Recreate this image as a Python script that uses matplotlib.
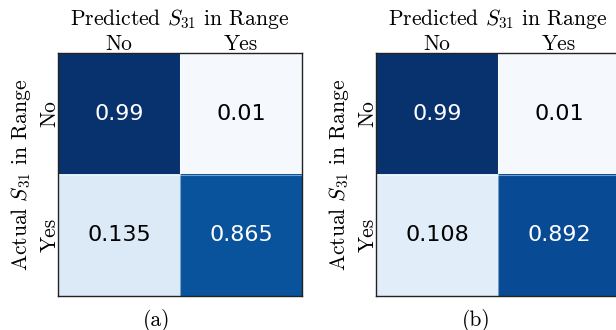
import numpy as np
import matplotlib.pyplot as plt

plt.rcParams["font.family"] = "cmr10"
plt.rcParams["mathtext.fontset"] = "cm"
plt.rcParams["axes.unicode_minus"] = False

classes = ["No", "Yes"]
cm_a = np.array([[0.99, 0.01],
                 [0.135, 0.865]])
cm_b = np.array([[0.99, 0.01],
                 [0.108, 0.892]])
captions = ["(a)", "(b)"]


def draw_matrix(ax, mat):
    ax.imshow(mat, cmap="Blues", vmin=0, vmax=1, aspect="auto")
    # faint seams between the cells
    for k in np.arange(0.5, mat.shape[0] - 0.5):
        ax.axhline(k, color="white", lw=0.8, alpha=0.45)
        ax.axvline(k, color="white", lw=0.8, alpha=0.45)
    for i in range(mat.shape[0]):
        for j in range(mat.shape[1]):
            val = mat[i, j]
            color = "white" if val > 0.5 else "black"
            ax.text(j, i, f"{val:g}", ha="center", va="center",
                    color=color, fontsize=16, family="DejaVu Sans")
    ax.set_xticks(range(len(classes)))
    ax.set_yticks(range(len(classes)))
    ax.set_xticklabels(classes, fontsize=15.5)
    ax.set_yticklabels(classes, fontsize=15.5, rotation=90, va="center")
    ax.xaxis.tick_top()
    ax.xaxis.set_label_position("top")
    ax.tick_params(length=0, pad=-1)
    ax.set_xlabel(r"Predicted $S_{31}$ in Range", fontsize=15.5, labelpad=7)
    ax.set_ylabel(r"Actual $S_{31}$ in Range", fontsize=15.5, labelpad=5)
    for s in ax.spines.values():
        s.set_color("#222222")
        s.set_linewidth(1.0)


W, H = 616, 330
fig = plt.figure(figsize=(W / 100, H / 100), dpi=100)
ax_a = fig.add_axes([58 / W, (H - 296) / H, 244 / W, 243 / H])
ax_b = fig.add_axes([376 / W, (H - 296) / H, 244 / W, 243 / H])

draw_matrix(ax_a, cm_a)
draw_matrix(ax_b, cm_b)

fig.text(157 / W, 1 - 320 / H, captions[0], ha="center", va="center", fontsize=15.5)
fig.text(476 / W, 1 - 320 / H, captions[1], ha="center", va="center", fontsize=15.5)

fig.savefig("out.png", dpi=100)
